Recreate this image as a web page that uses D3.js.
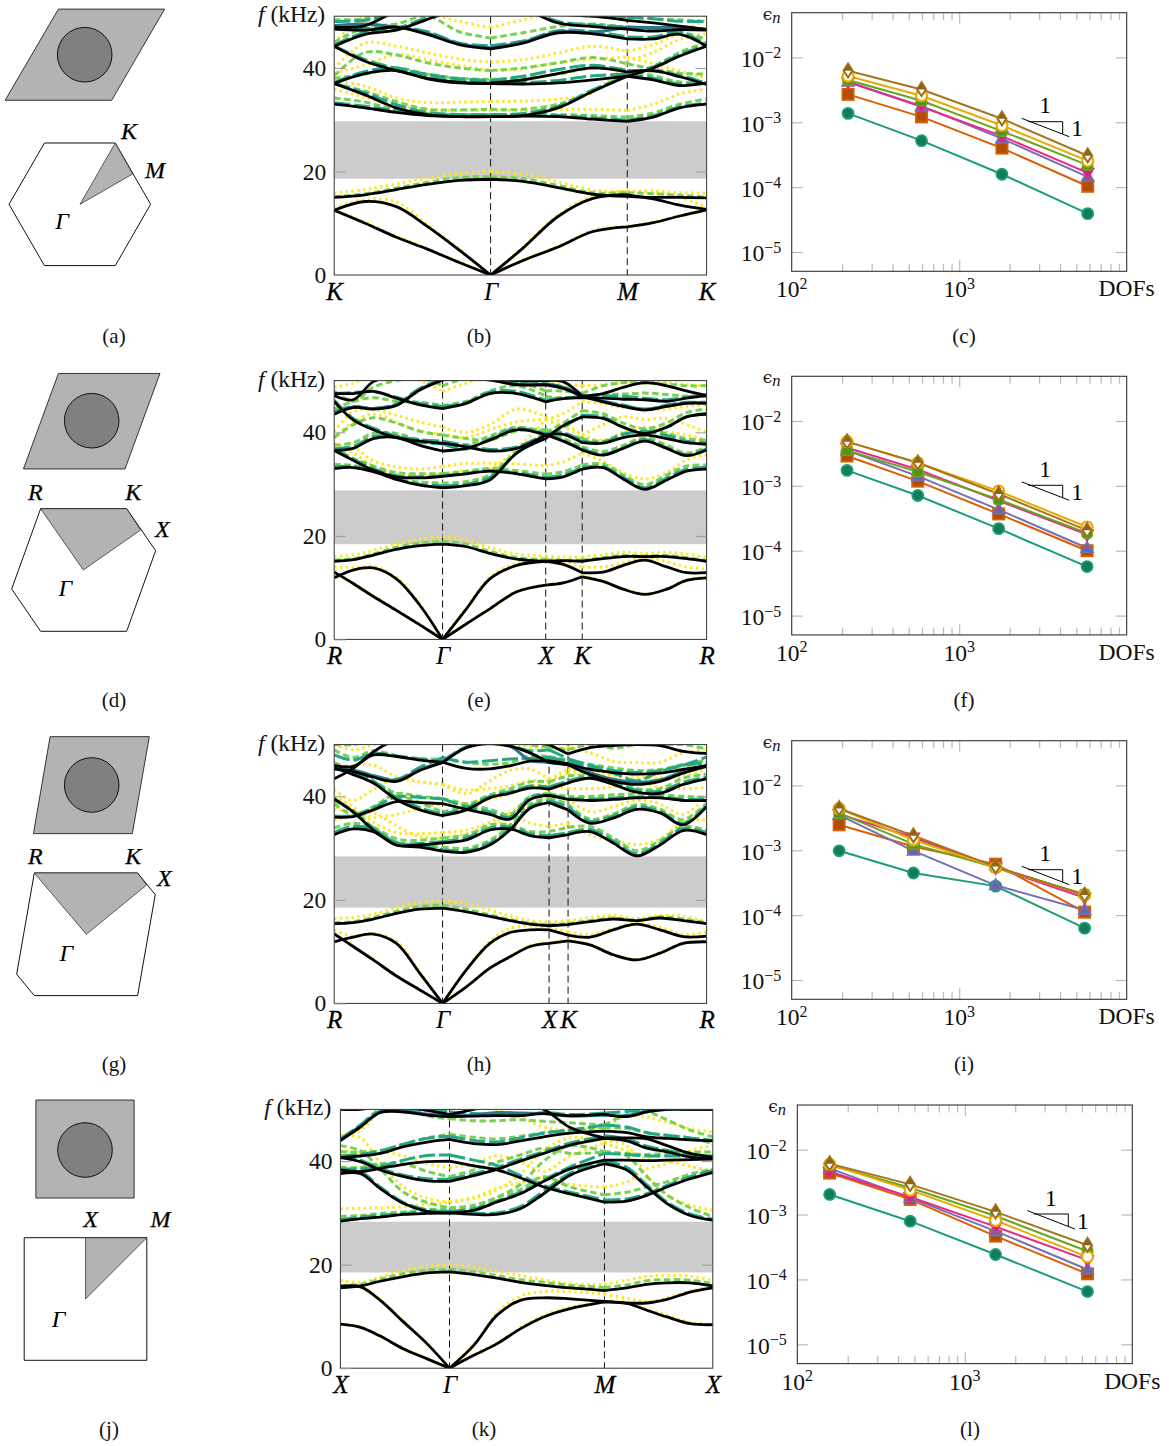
<!DOCTYPE html>
<html lang="en">
<head>
<meta charset="UTF-8">
<title>Band structures and convergence</title>
<script src="https://d3js.org/d3.v7.min.js"></script>
<style>
  html, body { margin: 0; padding: 0; background: #fff; }
  svg { display: block; }
</style>
</head>
<body>
<script>
// ---- band structure data, kHz at each path position ----
const xsB = [0,.083,.167,.25,.336,.42,.507,.601,.695,.787,.857,.928,1]
const symB = [0,.42,.787,1], symNamesB = ["K","Γ","M","K"]
const gapB = [18.6,29.7]
const blackB = [
  [12.5,10,7.3,5,2.4,0,2.8,5.4,8.4,9.3,10.1,11.4,12.6],
  [12.5,14.2,13.2,9.4,4.8,0,5.2,11.3,14.8,15.5,14.7,13.5,12.7],
  [15,15.5,16.5,17.5,18.3,18.5,18.1,16.9,15.6,15.2,15,15,14.9],
  [33,32.3,31.4,30.8,30.6,30.6,30.7,30.6,30.1,29.7,30.5,32.3,33],
  [37,34.8,32.3,31,30.6,30.6,30.8,32.3,35.5,38.4,40,42.3,44.2],
  [37,38.9,39.5,37.9,37.1,37,36.9,37.1,37.7,38.4,37.7,36.6,37.1],
  [44.2,41.3,39.5,38,37.2,37.1,37.7,38.9,40,39.2,39.5,38.3,36.8],
  [44.2,46.5,47.3,49.4,51.5,53,51.5,48.7,48,47.5,47.1,47.4,47.3],
  [47.5,47.3,47.9,46.5,44.5,43.7,44.8,46.8,46.6,45.6,45.6,46.5,44.2],
  [47.9,48.2,51,53,54,54,53,50.5,50,49.2,48.7,48.1,47.4]
]
const yellowB = [
  [12.7,10.2,7.5,5.1,2.5,0,2.9,5.5,8.6,9.4,10.2,11.5,12.8],
  [12.9,14.6,14.1,9.7,5,0,5.4,11.6,15.2,16.2,15.9,15,13],
  [15.8,16.5,17.6,18.7,19.6,20,19.5,18,16.4,16.2,16.2,15.9,15.8],
  [35.9,34.3,32.8,32,31.8,31.8,31.8,32,32,31.8,33,35,35.9],
  [37.5,36.5,34.2,33.3,33.4,33.5,33.6,34,35.3,41.3,43,45.5,46.6],
  [39,40.6,42.6,41.6,40.5,39.5,39.8,41,41.7,42.1,40.8,39.4,38],
  [39.9,44.8,44.2,42.9,41.7,41.1,41.6,42.9,44.2,43.2,44.5,46.8,49.4],
  [45,50,52,50.5,49,47.8,49.3,51,52,52,52,51,50]
]
const greenB = [
  [15.1,15.7,16.8,17.9,18.8,19,18.6,17.3,15.9,15.9,15.7,15.4,15],
  [34.2,33.4,31.9,31.2,31,31,31,31,30.8,30.5,31.3,33,34],
  [37,35.5,33.5,32,31.9,32,32,33,35.5,38.7,40.3,43,45],
  [38,38.8,40,38.8,38,37.8,38,38.8,40,39.5,38.5,37.3,37.3],
  [38.5,43,42.5,41,40,39.5,40,41,42,40.8,39.8,39,38.8],
  [45,47.8,48.5,50,47,45.8,46.8,48,48.5,47.8,47.5,47,45.5],
  [49.3,49.5,51,52,52,52,52,51,50,49.8,49.5,49.3,49]
]
const tealB = [
  [33.3,32.6,31.7,31,30.8,30.8,30.9,30.8,30.4,29.9,30.8,32.5,33.2],
  [37,35.2,32.9,31.4,31,31,31.2,32.6,35.8,38.5,40.2,42.6,44.4],
  [37.2,39.3,40,38.3,37.4,37.5,37.2,37.6,38.5,38.8,38,36.9,37.2],
  [44.2,41.6,39.9,38.8,37.9,37.6,38.4,39.7,40.5,39.5,39.4,38.6,37],
  [47.6,47.6,47.9,47,44.8,44.3,45.2,47.2,47,46,46,46.9,44.5],
  [44.4,46.9,47.7,49.7,51.5,53,51.5,49,48.3,47.9,47.5,47.7,47.6],
  [49,49.2,50.5,50.8,52,52,52,50.5,50.5,49.8,49.5,49,49]
]
const blueB = [
  [48.2,48.5,47.9,46.7,44.7,43.9,45,47,46.9,47.9,47.8,47.8,47.5]
]

const xsE = [0,.051,.105,.167,.23,.291,.355,.418,.49,.568,.615,.666,.722,.776,.834,.893,.946,1]
const symE = [0,.291,.568,.666,1], symNamesE = ["R","Γ","X","K","R"]
const gapE = [18.4,28.8]
const blackE = [
  [13,10.8,8.3,5.6,2.8,0,3,5.9,9.2,10.5,10.9,12.1,11.2,9.7,8.7,9.7,11.4,11.9],
  [11.9,13.4,13.8,11.7,6.6,0,5.9,11.7,14.3,15.1,14.5,12.9,13,14.3,15.3,14,12.9,12.9],
  [15.1,15.4,16.3,17.4,18.1,18.4,17.9,16.6,15.5,15.1,15.2,15.1,15.6,16,16,16,15.6,15.1],
  [33,33.2,32.4,30.9,29.8,29.3,29.7,30.8,36,38.8,41.3,43,42.7,41,39.8,41,43,43.5],
  [36.5,34.6,32.7,31.4,31.2,31.5,32,32.5,32,31,31.4,32.9,33.2,31,29,30.8,32.5,32.9],
  [36.5,36.9,38.8,39,37.5,36.4,36.9,38.5,40.5,39.5,38.3,36.6,35.6,36.9,38.3,36.9,35.5,36.6],
  [46,42.4,40.5,39,38.3,37.9,37.2,36.4,36.9,39.5,39.6,38,37.9,39,39.5,38.8,38,37.7],
  [43.5,44.8,44.5,45.2,48.2,50.1,50.5,50.1,49.2,49.2,48.5,46.9,45.9,45,44.3,45,45.6,45.6],
  [47.5,47.5,47.9,46.6,45.3,44.6,45.6,47.5,47.5,45.9,46.5,46.7,46.6,46.4,46.3,46,46.6,47.1],
  [47.1,46.3,49.8,51,51.5,52,51.5,50.5,50,50,49.8,47,47.5,48.7,49.6,49,48,47.1]
]
const yellowE = [
  [13.3,10.9,8.4,5.7,2.9,0,3.1,6,9.3,10.6,11,12.3,11.3,9.8,8.8,9.8,11.5,12],
  [14,13.9,14.1,12,6.8,0,6.1,12,14.7,15.8,15.2,14,14,14.8,15.8,15,14,13.6],
  [16,16.3,17.2,18.4,19.4,19.9,19.2,17.7,16.5,16.1,15.9,15.9,16.4,16.8,16.6,16.8,16.5,15.8],
  [36.5,37,34.5,33.3,32.9,33.4,34,34,33.9,33.5,34.3,36,34.4,32.2,31,32.2,34.7,35.7],
  [38,36,33.5,32,31.7,32,32.6,33,36.8,42.5,43.6,46,45.5,44.8,44.5,44.5,45,45.3],
  [40.2,44,44.4,43.3,42,41,40,41.5,44.5,43,41.8,39.5,41.5,43,42.5,42.7,41.5,40],
  [39,42,43.5,42,40.3,39.6,39,40.5,42,42.5,41,39.5,38.5,40,41,40,39.5,38.5],
  [48.7,49.5,51,51.5,50,48,49.5,51,51,49.8,49.5,49,49.2,49.6,49.8,49.6,49.2,49]
]
const greenE = [
  [15.3,15.6,16.5,17.8,18.6,18.9,18.4,17,15.8,15.4,15.3,15.3,15.8,16.2,16.1,16.2,15.8,15.2],
  [33.8,33.6,32.7,31,30.4,30.2,30.5,31.8,36.3,40,41.8,44.2,43.6,41.8,40.7,41.8,43.8,44.5],
  [37,35,33.5,32.2,32,32,32.5,33,32.6,31.9,32.4,33.7,33.9,31.8,29.9,31.8,33.5,33.7],
  [37.5,38,39.8,39.8,38.5,37.7,37.6,39.3,41,40,38.8,37.2,36.3,37.5,39,37.5,36,37.2],
  [39,41.5,42.8,41.8,40.2,39.5,38.8,38.5,40.3,40.5,39.8,38.8,38.3,39.8,40.5,39.8,38.8,38.5],
  [44.5,46,46.7,46,45.8,45.2,46,48,49,47,46.6,47,47.3,47.4,47.6,47.3,47,47],
  [48,46,48.7,50,50.5,49,50.5,50.8,50,48,48,47.5,49,49.6,49.5,49.3,49,49]
]
const tealE = [
  [33.4,33.4,32.6,31,30,29.7,30,31.3,36,39.4,41,43.3,43,41,39.9,41,43,43.7],
  [36.8,34.8,33,31.6,31.4,31.6,32.1,32.6,32.2,31.3,31.8,33.2,33.4,31.3,29.3,31.2,32.9,33.2],
  [36.8,37.3,39.2,39.2,38.1,37.8,36.8,38.8,40.8,39.7,38.4,36.8,35.8,37,38.6,37,35.7,36.8],
  [46.2,42.7,40.8,39.3,38.6,38.3,37.5,36.7,37.2,39.7,39.9,38.3,38.1,39.6,40.2,39.4,38.3,38],
  [44,45,44.6,45.5,48.5,50.3,50.5,50.4,49.5,49.4,48.8,47.2,46,45.3,44.4,45.3,45.8,45.8],
  [47.5,47.7,47.9,46.8,45.6,45,45.8,47.8,47.9,46.2,46.7,46.9,47,47,46.6,46.3,46.8,47.3]
]
const blueE = [
  [43.6,44.9,44.6,45.3,48.3,50.2,50.5,50.2,49.3,49.3,48.7,47,46,45.1,44.5,45.1,45.7,45.7]
]

const xsH = [0,.051,.105,.167,.23,.291,.355,.418,.472,.526,.577,.628,.687,.749,.812,.875,.937,1]
const symH = [0,.291,.577,.628,1], symNamesH = ["R","Γ","X","K","R"]
const gapH = [18.5,28.4]
const blackH = [
  [13.4,11,8.4,5.3,2.6,0,3.2,6.8,9,11,11.6,12.1,11.3,9.4,8.4,9.7,11.6,11.9],
  [11.9,12.8,13.4,11.6,5.8,0,6.5,11.6,13.7,14.2,14.2,13.2,12.8,14.2,15.3,14.2,12.9,13],
  [15.4,15.6,16.3,17.4,18.2,18.4,17.7,16.8,16,15.3,15,15.2,15.8,16.3,16,16.5,16,15.4],
  [39.5,37,33.5,30.6,30.2,29.4,29.2,30.6,33.5,37.7,38.8,37.4,34.8,35.8,37.5,36.8,34.5,38],
  [32.6,33.7,33.2,30.6,30.6,31,31.6,33.5,33.7,32.4,32,32.6,33.2,31,28.5,30.6,33.4,32.6],
  [36,36.1,37.4,39,38.8,38.6,37.5,36.5,35.6,39.4,40.2,39.4,39.2,39.4,39.7,39.7,39.2,39.2],
  [45.5,44.2,42.6,39.4,37.4,36.3,37.4,39.7,40.6,41.6,41.4,42.6,43.5,42.3,40.8,40.6,42.3,43.4],
  [43.4,45.4,48.6,51,52,52,52,52,51,50.5,50,48.2,49.4,49.8,50,49.8,48.7,48.3],
  [46,45.8,48,47.7,47,46.6,45.4,45.3,45.9,46.8,46.9,46.3,45.2,44.6,44.3,44.5,45.2,45.9],
  [45.3,44.8,43.7,42.9,45,46.5,49.4,50.2,49.7,48.4,46.5,46.1,44.2,42.9,42.3,42.9,44.5,45.8]
]
const yellowH = [
  [13.6,11.1,8.5,5.4,2.7,0,3.3,6.9,9.1,11.1,11.7,12.2,11.4,9.5,8.5,9.8,11.7,12],
  [14.2,13,13.5,12,6,0,6.6,12,14.5,15,14.7,13.8,13.3,14.5,15.5,14.7,13.3,13.8],
  [16.4,16.6,17.2,18.5,19.5,19.9,19.3,18,16.9,16,15.7,16,16.6,17,16.4,17,16.8,15.9],
  [35.4,36.3,36.8,34.3,32.2,32,32.8,34,36.5,34.8,34.2,34.8,32.5,31.5,30.7,31.7,35,35.5],
  [37.5,37,36,36.5,37.7,38.6,38.6,39.5,40.5,42,42,41.5,41.5,41.8,42.5,41.8,41.5,41.7],
  [41.3,39.2,41.3,43.5,42.8,42.3,40.5,43,45,45.3,43.3,45.2,44.5,43.8,43.5,43.6,44,45.2],
  [45.3,46,46,43.8,42.8,42.3,41.2,41.5,42,43,43,44.5,45,44.3,43.5,44.5,45.5,46],
  [40,38,35,33,32.8,33,33.5,35,37,39.5,40.8,39.5,37,38,39.2,38.5,36.5,40],
  [50,49,50,51,51,50.5,50,50,49.8,49.5,49,49.5,48.4,46.8,46.5,46.6,48.4,49]
]
const greenH = [
  [15.6,15.8,16.6,17.8,18.7,19,18.2,17.1,16.2,15.5,15.2,15.4,16,16.5,16.1,16.7,16.3,15.6],
  [39,37.3,34,31.2,30.5,30.2,30,31.5,34.5,38.5,39.8,38.5,35.6,36.6,38.4,37.5,35.5,38.7],
  [33.9,34.8,34,31.8,31.5,32,32.5,34.5,34.5,33.2,33.2,34,34.2,32,29.5,31.5,34.2,33.4],
  [38.5,36.5,38,40.5,40,39.6,38.5,37.5,36.5,40,40.5,40,40,40.3,40.5,40.3,40,39.8],
  [46.5,45,43,40.5,38.8,37,38.3,40.3,41.5,42.8,42.8,44,44,43,41.5,41.5,43.5,44.3],
  [49,47.5,48.8,47.9,47.3,47.2,46.5,46.2,46.5,47.8,47.7,47,46.2,45.5,45,45.2,46.2,47],
  [50,50,51,51,51,51,51,51,51,50,49.5,49,50,49.3,50,50,50,49.2]
]
const tealH = [
  [39.6,37,33.8,31,30.4,29.7,29.5,31,33.8,38,39.2,38,35.2,36.2,38,37.1,34.8,38.3],
  [33,34.2,33.6,31,30.9,31.3,32,33.9,34.1,32.8,32.4,33,33.6,31.4,28.9,31,33.8,33],
  [36.2,36.3,37.8,39.9,39.8,39.5,38,37,36,39.8,40.3,39.6,39.5,39.7,39.9,39.9,39.5,39.4],
  [45.7,44.5,42.9,39.8,37.8,36.6,37.8,40,40.9,42,41.8,43,43.8,42.6,41.2,41,42.7,43.7],
  [45.3,45.1,44,43.3,45.6,47.5,46.6,46.9,47.2,47.3,47.5,46.8,45.5,44.5,43,44.8,46,47.6],
  [48,47,48.3,47.8,47.2,46.8,49.6,50.2,49.8,48.8,49,47.3,46,45,44.6,45,46,46.5]
]
const blueH = [
  [45.5,45,44,43.1,45.2,46.6,49.5,50.3,49.7,47,46.6,46.2,44.6,43.3,42.7,43.2,44.8,46]
]

const xsK = [0,.054,.107,.17,.233,.293,.358,.42,.483,.546,.617,.709,.769,.823,.877,.939,1]
const symK = [0,.293,.709,1], symNamesK = ["X","Γ","M","X"]
const gapK = [18.5,28.3]
const blackK = [
  [8.5,7.9,6.2,3.7,1.8,0,2.5,4.7,7.6,9.9,11.5,12.8,12.5,11.2,9.9,8.6,8.4],
  [15.8,15.7,13.1,8.9,4.7,0,4.4,10.2,13.1,13.6,13.4,12.9,12.6,12.6,13.3,14.7,15.5],
  [15.5,15.9,16.8,17.7,18.4,18.6,18.1,17.4,16.6,16,15.5,15,15.5,16.2,16.5,16.5,15.9],
  [28.4,28.9,29.2,29.7,29.9,30,29.7,29.7,30.8,33.7,37.3,39.5,38.3,35,31.8,29.5,28.6],
  [37.6,37.6,34.7,31.8,30.3,30,30.5,32.1,33.7,36.1,38.5,40.2,40.2,40.1,40.2,40.3,40.4],
  [38.3,38,38.6,39.4,39.9,40,39.1,38.3,36.8,35,33.7,32.1,32.3,33.4,35,36.6,37.8],
  [40.7,39.9,38.3,37,36.2,36.1,37.2,38.4,40,41.5,43.1,44.4,43.9,42.5,41.8,40.8,40.5],
  [40.7,41,41.5,42.8,43.7,44.2,43.4,43.2,43.9,44.7,45.4,45.8,45.5,44.7,44.4,44.1,43.9],
  [44,46.6,49.4,49.5,48.9,48.6,48.7,48.8,48.8,49.2,48.8,49.1,48.6,49.5,50,50,50],
  [50,50,50.5,50.4,49.8,49,50,51,51,50,46.5,44.5,44.5,44.3,43,41.5,40.8]
]
const yellowK = [
  [8.6,8,6.3,3.8,1.9,0,2.6,4.9,7.8,10.2,11.8,13,12.8,11.5,10.2,8.8,8.5],
  [15.8,15.9,13.3,9,4.8,0,4.5,10.6,13.9,14.8,14.8,14.3,13.5,12.9,13.6,14.9,15.7],
  [17,16.6,17.6,18.9,19.7,20.1,19.6,18.7,17.9,17.1,16.3,16.2,17,17.7,17.9,17.8,16.9],
  [30.8,30.9,31,31.2,31.6,32,32.8,34.4,37.5,42,44.5,44,43,37.3,33.4,31.5,30.5],
  [45,44.5,39.6,35,32.8,32.2,33,34.7,35.8,36.8,35.5,35,36,38.5,39.5,42,43],
  [42,41.7,41.8,41,39.5,38.7,39.5,41,40,38,41,43.5,42,40.4,40,39,38],
  [45,46,49.5,50.5,51,51,51,50,48.5,46.6,46,46.3,48.8,48.5,47.5,46.3,45.6]
]
const greenK = [
  [16,16.2,17.2,18.3,18.9,19.1,18.6,17.9,17.1,16.6,16,15.6,16.1,16.9,17.1,17,16.3],
  [29.3,29.5,29.9,30.2,30.6,30.9,31.5,33,35.5,40,43,41.8,41,37,33.5,31,29.3],
  [43,42,38.5,34,32,31,31.2,33,34.5,37,35,33.5,34,35,36,37.5,38.5],
  [38.8,38.8,39.5,39.5,38,37,38.3,39.8,41.2,42.5,41.5,41.8,41.5,41.3,41.5,41.7,41.8],
  [41.8,41.8,42,43.3,44.5,45.2,44.6,44.3,44.8,45.5,46,46.5,46.3,45.5,45,44.5,43.4],
  [44,47,50,50.5,48.8,48.2,47.8,47.8,48,47.7,47.4,47,49,49.5,48,46,44.7]
]
const tealK = [
  [28.7,29.2,29.5,29.9,30.1,30.3,30,30,31.2,34.2,37.7,40,38.8,35.4,32.1,29.8,28.8],
  [38,37.9,35,32,30.6,30.3,30.8,32.3,34,36.4,38.9,41.5,41.3,41,41,41,40.9],
  [38.5,38.5,39,40.2,41.1,41.2,40.2,39.2,37.2,35.3,34,32.5,32.7,33.7,35.3,37,38.2],
  [41,40.2,38.6,37.3,36.6,36.5,37.6,38.8,40.4,41.8,43.5,44.9,44.3,42.9,42.1,41.2,41],
  [41,41.3,42,43.3,44.4,44.8,44,43.7,44.5,45.4,46,47,46.6,45.5,45,44.5,44],
  [44.3,47,49.7,50,50,49.5,49.2,49,48.8,49.4,49,49.3,49.6,50,50.2,50.2,50.2]
]
const blueK = [
  [44.1,46.8,49.5,49.7,49.1,48.8,48.9,49.4,49.3,49.2,48.7,48.9,48.8,49.7,50,50,50]
]

// ---- convergence data ----
const dofsC = [217,596,1800,5850]
const errC = [
  [1.37e-3,5.2e-4,1.58e-4,3.9e-5],
  [2.69e-3,1.21e-3,3.99e-4,1.03e-4],
  [4.2e-3,1.77e-3,5.6e-4,1.44e-4],
  [4.16e-3,1.73e-3,6.1e-4,1.66e-4],
  [4.47e-3,2.14e-3,7.3e-4,2.18e-4],
  [5.15e-3,2.56e-3,8.9e-4,2.54e-4],
  [6.2e-3,3.2e-3,1.13e-3,3.04e-4]
]
const dofsF = [214,566,1720,5800]
const errF = [
  [1.73e-3,7.1e-4,2.19e-4,5.7e-5],
  [2.88e-3,1.18e-3,3.69e-4,1e-4],
  [3.5e-3,1.41e-3,4.3e-4,1.1e-4],
  [3.87e-3,1.79e-3,5.9e-4,1.77e-4],
  [3.5e-3,1.64e-3,6.15e-4,1.87e-4],
  [4.8e-3,2.27e-3,8.3e-4,2.32e-4],
  [4.8e-3,2.27e-3,7.5e-4,2.06e-4]
]
const dofsI = [192,533,1650,5610]
const errI = [
  [9.8e-4,4.46e-4,2.8e-4,6.3e-5],
  [2.47e-3,1.14e-3,6.1e-4,1.11e-4],
  [3.48e-3,9.8e-4,2.88e-4,1.2e-4],
  [3.6e-3,1.57e-3,5.4e-4,1.85e-4],
  [3.73e-3,1.24e-3,5.4e-4,2.1e-4],
  [4.4e-3,1.44e-3,5.46e-4,2.04e-4],
  [4.4e-3,1.67e-3,5.6e-4,2.04e-4]
]
const dofsL = [156,472,1527,5400]
const errL = [
  [2.04e-3,7.9e-4,2.42e-4,6.5e-5],
  [4.36e-3,1.71e-3,4.65e-4,1.22e-4],
  [5.15e-3,1.81e-3,5.55e-4,1.42e-4],
  [4.57e-3,1.86e-3,6.5e-4,1.98e-4],
  [5.8e-3,2.59e-3,9.5e-4,2.72e-4],
  [5.94e-3,2.38e-3,8.1e-4,2.23e-4],
  [6.08e-3,2.92e-3,1.1e-3,3.37e-4]
]
const seriesColors = ["#1b9e77","#d95f02","#7570b3","#e7298a","#66a61e","#e6ab02","#a6761d"]
const seriesFills = ["#137a5c","#b04e02","#6a65a8","#d0247c","#55901a","#ffffff","#8c6418"]

// ---- cell sketches: in units of the inclusion radius / half zone height ----
const cellA = [[-2.915,-1.67],[.988,-1.67],[2.927,1.67],[-.963,1.67]]
const zoneA = [[-1.158,0],[-.58,1],[.576,1],[1.152,0],[.576,-1],[-.58,-1]]
const wedgeA = [[0,0],[.576,1],[.859,.495]]
const cellD = [[-2.5,-1.768],[1.22,-1.768],[2.5,1.73],[-1.22,1.73]]
const zoneD = [[-.696,1],[.707,1],[1.18,.315],[.707,-1],[-.696,-1],[-1.168,-.31]]
const wedgeD = [[0,0],[-.696,1],[.707,1],[.935,.652]]
const cellG = [[-2.134,-1.78],[1.488,-1.78],[2.11,1.77],[-1.524,1.77]]
const zoneG = [[-.848,1],[.837,1],[1.125,.647],[.837,-1],[-.848,-1],[-1.136,-.652]]
const wedgeG = [[0,0],[-.848,1],[.837,1],[.984,.804]]
const cellJ = [[-1.8,-1.76],[1.8,-1.76],[1.8,1.83],[-1.8,1.83]]
const zoneJ = [[-1,1],[1,1],[1,-1],[-1,-1]]
const wedgeJ = [[0,0],[0,1],[1,1]]

const serif = "'Liberation Serif', 'Times New Roman', serif"
const W = 1169, H = 1446
const svg = d3.select("body").append("svg").attr("width", W).attr("height", H)
  .attr("font-family", serif)

let clipId = 0

function drawBands(left, top, xs, sym, names, gap, black, yellow, green, teal, blue) {
  const w = 372.4, h = 258.8
  const x = d3.scaleLinear().domain([0,1]).range([left, left + w])
  const y = d3.scaleLinear().domain([0,50]).range([top + h, top])
  const id = "clip" + (clipId++)
  svg.append("clipPath").attr("id", id).append("rect")
    .attr("x", left).attr("y", top).attr("width", w).attr("height", h)
  const g = svg.append("g")
  const plot = g.append("g").attr("clip-path", `url(#${id})`)

  plot.append("rect").attr("x", left).attr("width", w)
    .attr("y", y(gap[1])).attr("height", y(gap[0]) - y(gap[1]))
    .attr("fill", "#cccccc")

  plot.selectAll(".sym").data(sym.slice(1, -1)).enter().append("line")
    .attr("x1", d => x(d)).attr("x2", d => x(d))
    .attr("y1", top).attr("y2", top + h)
    .attr("stroke", "#111").attr("stroke-width", 1).attr("stroke-dasharray", "7 4")

  // a band has a kink at each symmetry point, so each stretch is drawn by itself
  const stretches = d3.pairs(sym).map(([a, b]) => {
    const idx = d3.range(xs.length).filter(i => xs[i] >= a && xs[i] <= b)
    return idx
  })
  const line = d3.line().x(d => x(d[0])).y(d => y(d[1])).curve(d3.curveCatmullRom.alpha(0.5))
  const bandPath = band => stretches.map(idx => line(idx.map(i => [xs[i], band[i]]))).join("")

  const styles = [
    [yellow, "#fde725", 3, "2.4 3.4"],
    [green, "#7ad151", 3, "6.5 3.5"],
    [teal, "#22a884", 3, "16 4"],
    [blue, "#2a788e", 3, null],
    [black, "#000000", 2.8, null]
  ]
  styles.forEach(([bands, color, sw, dash]) => {
    plot.selectAll(null).data(bands).enter().append("path")
      .attr("d", bandPath)
      .attr("fill", "none").attr("stroke", color).attr("stroke-width", sw)
      .attr("stroke-dasharray", dash)
  })

  g.append("rect").attr("x", left).attr("y", top).attr("width", w).attr("height", h)
    .attr("fill", "none").attr("stroke", "#333").attr("stroke-width", 1)

  const yAxis = d3.axisLeft(y).tickValues([0,20,40]).tickSize(-11).tickPadding(8)
  const ya = g.append("g").attr("transform", `translate(${left},0)`).call(yAxis)
  ya.select(".domain").remove()
  ya.selectAll("line").attr("stroke", "#999")
  ya.selectAll("text").attr("font-family", serif).attr("font-size", 23.5).attr("fill", "#111")
  const yr = g.append("g").attr("transform", `translate(${left + w},0)`)
    .call(d3.axisRight(y).tickValues([20,40]).tickSize(-11).tickFormat(""))
  yr.select(".domain").remove()
  yr.selectAll("line").attr("stroke", "#999")

  const xAxis = d3.axisBottom(x).tickValues(sym).tickSize(0).tickPadding(7)
    .tickFormat((d, i) => names[i])
  const xa = g.append("g").attr("transform", `translate(0,${top + h})`).call(xAxis)
  xa.select(".domain").remove()
  xa.selectAll("text")
    .attr("font-family", serif).attr("font-size", 25).attr("font-style", "italic").attr("fill", "#000")
    .attr("stroke", "#000").attr("stroke-width", (d, i) => names[i] === "Γ" ? 0 : 0.3)

  const lab = g.append("text").attr("x", left - 9).attr("y", top + 6)
    .attr("text-anchor", "end").attr("font-size", 23.5).attr("fill", "#111")
  lab.append("tspan").attr("font-style", "italic").text("f ")
  lab.append("tspan").text("(kHz)")
}

function marker(sel, i) {
  const c = seriesColors[i], f = seriesFills[i]
  if (i === 0) sel.append("circle").attr("r", 5.5).attr("fill", f).attr("stroke", c).attr("stroke-width", 1.8)
  if (i === 1) sel.append("rect").attr("x", -5.6).attr("y", -5.6).attr("width", 11.2).attr("height", 11.2)
    .attr("fill", f).attr("stroke", c).attr("stroke-width", 1.8)
  if (i === 2) sel.append("path").attr("d", "M0,-6.4L6,4.2L-6,4.2Z").attr("fill", f).attr("stroke", c).attr("stroke-width", 1.6)
  if (i === 3) sel.append("path").attr("d", "M0,6.4L6,-4.2L-6,-4.2Z").attr("fill", f).attr("stroke", c).attr("stroke-width", 1.6)
  if (i === 4) sel.append("rect").attr("x", -5).attr("y", -5).attr("width", 10).attr("height", 10).attr("rx", 3)
    .attr("fill", f).attr("stroke", c).attr("stroke-width", 1.6)
  if (i === 5) sel.append("circle").attr("r", 5.5).attr("fill", f).attr("stroke", c).attr("stroke-width", 2.2)
  if (i === 6) {
    sel.append("path").attr("d", "M0,-8L5,0L0,7.2L-5,0Z").attr("fill", f).attr("stroke", c).attr("stroke-width", 1.3)
    sel.append("path").attr("d", "M-3.2,0L3.2,0L0,4.8Z").attr("fill", "#fff")
  }
}

function drawConv(left, top, dofs, err, triShift) {
  const w = 335, h = 258.6
  const x = d3.scaleLog().domain([100,10000]).range([left, left + w])
  const y = d3.scaleLog().domain([5.04e-6,0.0488]).range([top + h, top])
  const g = svg.append("g")

  const minors = [200,300,400,500,600,700,800,900,2000,3000,4000,5000,6000,7000,8000,9000]
  const tickGroups = [
    [d3.axisBottom(x).tickValues(minors).tickSize(-7.5).tickFormat(""), 0, top + h],
    [d3.axisTop(x).tickValues(minors).tickSize(-7.5).tickFormat(""), 0, top],
    [d3.axisBottom(x).tickValues([1000]).tickSize(-11).tickFormat(""), 0, top + h],
    [d3.axisTop(x).tickValues([1000]).tickSize(-11).tickFormat(""), 0, top],
    [d3.axisRight(y).tickValues([1e-2,1e-3,1e-4,1e-5]).tickSize(-11).tickFormat(""), left + w, 0],
    [d3.axisLeft(y).tickValues([1e-2,1e-3,1e-4,1e-5]).tickSize(-11).tickFormat(""), left, 0]
  ]
  tickGroups.forEach(([axis, dx, dy]) => {
    const a = g.append("g").attr("transform", `translate(${dx},${dy})`).call(axis)
    a.select(".domain").remove()
    a.selectAll("line").attr("stroke", "#bbb").attr("stroke-width", 1.2)
  })

  g.append("rect").attr("x", left).attr("y", top).attr("width", w).attr("height", h)
    .attr("fill", "none").attr("stroke", "#333").attr("stroke-width", 1.1)

  const line = d3.line().x((d, i) => x(dofs[i])).y(d => y(d))
  err.forEach((s, i) => {
    g.append("path").attr("d", line(s)).attr("fill", "none")
      .attr("stroke", seriesColors[i]).attr("stroke-width", 2)
  })
  err.forEach((s, i) => {
    const m = g.selectAll(null).data(s).enter().append("g")
      .attr("transform", (d, j) => `translate(${x(dofs[j])},${y(d)})`)
    marker(m, i)
  })

  // slope triangle
  const tx = left + 230, ty = top + 105.6 + triShift
  const tri = g.append("g").attr("stroke", "#000").attr("stroke-width", 1)
  tri.append("line").attr("x1", tx).attr("y1", ty).attr("x2", tx + 47.6).attr("y2", ty + 18.4)
  tri.append("line").attr("x1", tx + 6.5).attr("y1", ty + 3.4).attr("x2", tx + 41).attr("y2", ty + 3.4)
  tri.append("line").attr("x1", tx + 41).attr("y1", ty + 3.4).attr("x2", tx + 41).attr("y2", ty + 15.6)
  g.append("text").attr("x", tx + 23.5).attr("y", ty - 5).attr("text-anchor", "middle").attr("font-size", 23.5).text("1")
  g.append("text").attr("x", tx + 55.5).attr("y", ty + 18).attr("text-anchor", "middle").attr("font-size", 23.5).text("1")

  // tick labels with powers
  const powLabel = (px, py, anchor, base, exp) => {
    const t = g.append("text").attr("x", px).attr("y", py).attr("text-anchor", anchor)
      .attr("font-size", 23.5).attr("fill", "#111")
    t.append("tspan").text(base)
    t.append("tspan").attr("dy", -8.5).attr("font-size", 16).text(exp)
  }
  powLabel(x(100), top + h + 26, "middle", "10", "2")
  powLabel(x(1000), top + h + 26, "middle", "10", "3")
  ;[[1e-2,"−2"],[1e-3,"−3"],[1e-4,"−4"],[1e-5,"−5"]].forEach(([v, s]) => {
    powLabel(left - 10.5, y(v) + 9.5, "end", "10", s)
  })

  g.append("text").attr("x", left + w + 28).attr("y", top + h + 25).attr("text-anchor", "end")
    .attr("font-size", 23.5).attr("fill", "#111").text("DOFs")
  const e = g.append("text").attr("x", left - 29).attr("y", top + 7).attr("font-size", 17).attr("fill", "#111")
  e.append("tspan").attr("font-family", "'DejaVu Serif', serif").attr("font-size", 17).text("ϵ")
  e.append("tspan").attr("dx", 0).attr("dy", 3).attr("font-style", "italic").attr("font-size", 16.5).text("n")
}

function drawSketch(cx, cy, cell, zx, zy, zone, wedge, labels) {
  const r = 27.3, u = 61.3
  const cxs = d3.scaleLinear().domain([0,1]).range([cx, cx + r])
  const cys = d3.scaleLinear().domain([0,1]).range([cy, cy - r])
  const zxs = d3.scaleLinear().domain([0,1]).range([zx, zx + u])
  const zys = d3.scaleLinear().domain([0,1]).range([zy, zy - u])
  const g = svg.append("g")
  const shape = (pts, xf, yf) => "M" + pts.map(p => xf(p[0]) + "," + yf(p[1])).join("L") + "Z"
  g.append("path").attr("d", shape(cell, cxs, cys)).attr("fill", "#b3b3b3").attr("stroke", "#222").attr("stroke-width", 0.9)
  g.append("circle").attr("cx", cxs(0)).attr("cy", cys(0)).attr("r", r).attr("fill", "#808080").attr("stroke", "#111").attr("stroke-width", 1)
  g.append("path").attr("d", shape(zone, zxs, zys)).attr("fill", "#fff").attr("stroke", "#111").attr("stroke-width", 1)
  g.append("path").attr("d", shape(wedge, zxs, zys)).attr("fill", "#b3b3b3").attr("stroke", "#222").attr("stroke-width", 0.7)
  labels.forEach(([txt, lx, ly]) => {
    g.append("text").attr("x", zx + lx).attr("y", zy + ly).attr("text-anchor", "middle")
      .attr("font-size", 24).attr("font-style", "italic").attr("fill", "#000")
      .attr("stroke", "#000").attr("stroke-width", txt === "Γ" ? 0 : 0.25).text(txt)
  })
}

// row a-c
drawSketch(84.7, 54.7, cellA, 80, 204.3, zoneA, wedgeA, [["K",49,-65],["M",75,-26],["Γ",-18,25]])
drawBands(334.2, 16.2, xsB, symB, symNamesB, gapB, blackB, yellowB, greenB, tealB, blueB)
drawConv(791.7, 12.7, dofsC, errC, 0)
// row d-f
drawSketch(91.7, 420.7, cellD, 83.3, 570, zoneD, wedgeD, [["R",-48,-70],["K",50,-70],["X",79,-33],["Γ",-18,26]])
drawBands(334.2, 380.6, xsE, symE, symNamesE, gapE, blackE, yellowE, greenE, tealE, blueE)
drawConv(791.7, 376.3, dofsF, errF, 0)
// row g-i
drawSketch(91.7, 785, cellG, 86.3, 934.3, zoneG, wedgeG, [["R",-51,-70],["K",47,-70],["X",78,-48],["Γ",-20,27]])
drawBands(334.2, 744.6, xsH, symH, symNamesH, gapH, blackH, yellowH, greenH, tealH, blueH)
drawConv(791.7, 740.7, dofsI, errI, 20)
// row j-l
drawSketch(85, 1150, cellJ, 85.5, 1299, zoneJ, wedgeJ, [["X",5,-72],["M",75,-72],["Γ",-27,28]])
drawBands(340.4, 1109.4, xsK, symK, symNamesK, gapK, blackK, yellowK, greenK, tealK, blueK)
drawConv(797.3, 1105, dofsL, errL, 0)

const captions = ["(a)","(b)","(c)","(d)","(e)","(f)","(g)","(h)","(i)","(j)","(k)","(l)"]
const capX = [114,479,964,114,479,964,114,479,964,109,484,970]
const capY = [343,343,343,707,707,707,1071,1071,1071,1436,1436,1436]
svg.selectAll(".cap").data(captions).enter().append("text")
  .attr("x", (d, i) => capX[i]).attr("y", (d, i) => capY[i])
  .attr("text-anchor", "middle").attr("font-size", 21).attr("fill", "#111").text(d => d)
</script>
</body>
</html>
